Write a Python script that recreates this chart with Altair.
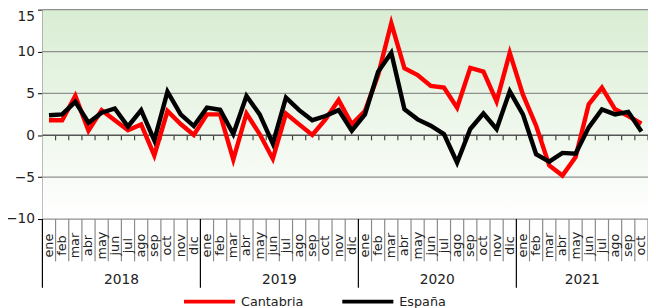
import altair as alt
import pandas as pd

months = ["ene", "feb", "mar", "abr", "may", "jun", "jul", "ago", "sep", "oct", "nov", "dic"]
years = ["2018", "2019", "2020", "2021"]
year_months = [12, 12, 12, 10]
month_labels = months * 3 + months[:10]

cantabria = [1.8, 1.8, 4.7, 0.55, 3.0, 1.8, 0.6, 1.3, -2.4, 2.9, 1.35, 0.05,
             2.5, 2.5, -2.9, 2.6, 0.15, -2.8, 2.6, 1.3, 0.05, 1.9, 4.2, 1.3,
             2.9, 7.2, 13.4, 8.0, 7.2, 5.9, 5.7, 3.3, 8.05, 7.6, 4.05, 9.85,
             4.85, 1.15, -3.6, -4.8, -2.6, 3.7, 5.7, 3.1, 2.3, 1.4]
espana = [2.4, 2.5, 4.0, 1.5, 2.7, 3.2, 1.05, 3.0, -0.6, 5.2, 2.5, 1.1,
          3.3, 3.05, 0.15, 4.7, 2.5, -1.0, 4.5, 3.0, 1.8, 2.3, 3.0, 0.55,
          2.5, 7.6, 9.85, 3.1, 1.9, 1.15, 0.15, -3.25, 0.75, 2.6, 0.75, 5.25,
          2.5, -2.25, -3.15, -2.1, -2.2, 0.95, 3.1, 2.5, 2.8, 0.45]
y_ticks = [-10, -5, 0, 5, 10, 15]

N = len(month_labels)
W, H = 616, 213
FONT = "DejaVu Sans"

rows = []
for name, vals in [("Cantabria", cantabria), ("España", espana)]:
    for i, v in enumerate(vals):
        rows.append({"pos": i + 0.5, "valor": v, "serie": name})
df = pd.DataFrame(rows)

labels_df = pd.DataFrame({"pos": [i + 0.5 for i in range(N)], "label": month_labels})
bounds = list(range(1, N + 1))
year_bounds = []
acc = 0
year_centers = []
for n in year_months:
    year_centers.append(acc + n / 2)
    acc += n
    year_bounds.append(acc)
year_bounds = year_bounds[:-1]
month_bounds = [b for b in bounds if b not in year_bounds]

xs = alt.Scale(domain=[0, N], nice=False, zero=False)
ys = alt.Scale(domain=[-10, 15], nice=False, zero=False)
yaxis = alt.Axis(values=y_ticks, grid=False,
                 domainColor="#000000", domainWidth=1, tickColor="#000000", tickSize=5,
                 labelFontSize=14, labelColor="#222222", labelPadding=3, title=None,
                 labelFont=FONT,
                 labelBaseline=alt.condition("datum.value == 15", alt.value("top"), alt.value("middle")))

grad = alt.LinearGradient(gradient="linear", x1=0, y1=0, x2=0, y2=1,
                          stops=[alt.GradientStop(offset=0, color="#d9edd3"),
                                 alt.GradientStop(offset=1, color="#ffffff")])
bg = alt.Chart(pd.DataFrame({"a": [0]})).mark_rect(color=grad).encode(
    x=alt.value(0), x2=alt.value(W), y=alt.value(0), y2=alt.value(H))

grid_df = pd.DataFrame({"v": [t for t in y_ticks if t != 0]})
grid = alt.Chart(grid_df).mark_rule(color="#8f8f8f", strokeWidth=1.3).encode(
    y=alt.Y("v:Q", scale=ys, axis=yaxis))

zero_df = pd.DataFrame({"v": [0]})
zero_rule = alt.Chart(zero_df).mark_rule(color="#555555", strokeWidth=1.5).encode(
    y=alt.Y("v:Q", scale=ys, axis=yaxis))

ticks_df = pd.DataFrame({"b": bounds, "y0": [0] * len(bounds), "y1": [-0.6] * len(bounds)})
zero_ticks = alt.Chart(ticks_df).mark_rule(color="#444444", strokeWidth=1.2).encode(
    x=alt.X("b:Q", scale=xs, axis=None),
    y=alt.Y("y0:Q", scale=ys, axis=yaxis),
    y2="y1:Q")

mb_df = pd.DataFrame({"b": month_bounds})
month_sep = alt.Chart(mb_df).mark_rule(color="#8a8a8a", strokeWidth=1.2).encode(
    x=alt.X("b:Q", scale=xs, axis=None),
    y=alt.value(H), y2=alt.value(H + 43))

yb_df = pd.DataFrame({"b": [0] + year_bounds})
year_sep = alt.Chart(yb_df).mark_rule(color="#000000", strokeWidth=1.2).encode(
    x=alt.X("b:Q", scale=xs, axis=None),
    y=alt.value(H), y2=alt.value(H + 70))

month_text = alt.Chart(labels_df).mark_text(
    angle=270, align="center", baseline="middle", fontSize=13, font=FONT, color="#222222"
).encode(x=alt.X("pos:Q", scale=xs, axis=None), y=alt.value(H + 27), text="label:N")

year_df = pd.DataFrame({"pos": year_centers, "label": years})
year_text = alt.Chart(year_df).mark_text(
    align="center", baseline="middle", fontSize=14, font=FONT, color="#222222"
).encode(x=alt.X("pos:Q", scale=xs, axis=None), y=alt.value(H + 62), text="label:N")

lines = alt.Chart(df).mark_line(strokeWidth=4.5).encode(
    x=alt.X("pos:Q", scale=xs, axis=None),
    y=alt.Y("valor:Q", scale=ys, axis=yaxis),
    color=alt.Color("serie:N",
                    scale=alt.Scale(domain=["Cantabria", "España"], range=["#ff0000", "#000000"]),
                    legend=alt.Legend(title=None, orient="none", legendX=142, legendY=269,
                                      direction="horizontal", symbolType="stroke",
                                      symbolSize=2700, symbolStrokeWidth=4, labelFontSize=13,
                                      labelFont=FONT, labelColor="#222222", labelOffset=4,
                                      columnPadding=31, padding=0)),
    order=alt.Order("pos:Q"))

chart = alt.layer(bg, grid, zero_rule, zero_ticks, month_sep, year_sep, month_text, year_text, lines).properties(
    width=W, height=H,
    autosize=alt.AutoSizeParams(type="none"),
    padding={"left": 35, "top": -1, "right": 0, "bottom": 100},
).configure_view(stroke=None)

chart.save("out.html", embed_options={"renderer": "svg", "actions": False})
